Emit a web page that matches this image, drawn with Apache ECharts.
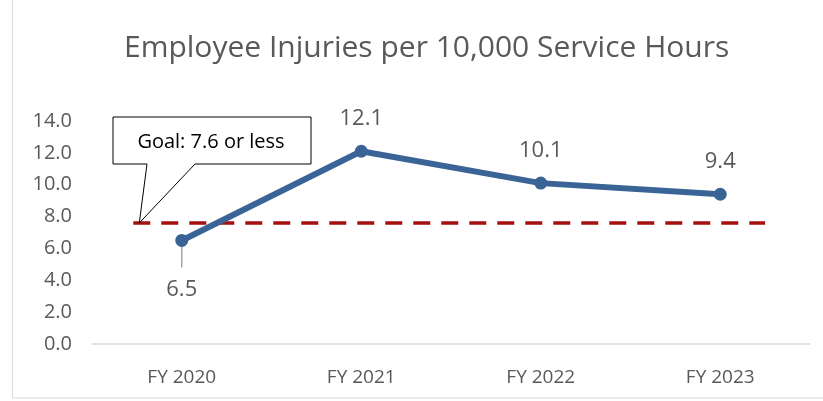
<!DOCTYPE html>
<html>
<head>
<meta charset="utf-8">
<script src="https://cdn.jsdelivr.net/npm/echarts@6/dist/echarts.min.js"></script>
<style>
  html, body { margin: 0; padding: 0; background: #fff; }
  #main { width: 823px; height: 401px; }
</style>
</head>
<body>
<div id="main"></div>
<script>
// chart values
var years = ['FY 2020', 'FY 2021', 'FY 2022', 'FY 2023'];
var injuries = [6.5, 12.1, 10.1, 9.4];
var goalValue = 7.6;
var goalSpan = [-0.27, 3.25];   // goal line start / end, in category units
var yTicks = [0, 14, 2];        // min, max, interval

var chart = echarts.init(document.getElementById('main'));
var font = 'Open Sans, Noto Sans, sans-serif';

chart.setOption({
  animation: false,
  title: {
    text: 'Employee Injuries per 10,000 Service Hours',
    left: 119,
    top: 28,
    textStyle: { fontFamily: font, fontSize: 30, fontWeight: 'normal', color: '#595959' }
  },
  grid: { left: 92, right: 13, top: 121, bottom: 57 },
  xAxis: [{
    type: 'category',
    data: years,
    axisLine: { lineStyle: { color: '#d9d9d9', width: 1.5 } },
    axisTick: { show: false },
    axisLabel: { fontFamily: font, fontSize: 19, color: '#595959', margin: 24 }
  }, {
    type: 'value',
    min: -0.5, max: 3.5,
    show: false
  }],
  yAxis: {
    type: 'value',
    min: yTicks[0], max: yTicks[1], interval: yTicks[2],
    splitLine: { show: false },
    axisLine: { show: false },
    axisTick: { show: false },
    axisLabel: {
      fontFamily: font, fontSize: 20, color: '#595959', margin: 20,
      formatter: function (v) { return v.toFixed(1); }
    }
  },
  series: [{
    name: 'Goal',
    type: 'line',
    xAxisIndex: 1,
    data: [[goalSpan[0], goalValue], [goalSpan[1], goalValue]],
    symbol: 'none',
    lineStyle: { color: '#a50f0f', width: 3.5, type: [17, 11] },
    z: 1
  }, {
    name: 'Injuries',
    type: 'line',
    data: injuries,
    symbol: 'circle',
    symbolSize: 13,
    lineStyle: { color: '#3a6496', width: 6 },
    itemStyle: { color: '#3a6496' },
    z: 3,
    label: {
      show: true,
      position: 'top',
      distance: 15,
      fontFamily: font, fontSize: 22, color: '#595959',
      formatter: function (p) { return p.value.toFixed(1); }
    },
    labelLayout: function (p) {
      if (p.dataIndex === 0) return { dy: 82 };
      return {};
    }
  }]
});

// callout for the goal and leader line for the first label
var tip = chart.convertToPixel({ xAxisIndex: 1, yAxisIndex: 0 }, [goalSpan[0], goalValue]);
var p0 = chart.convertToPixel({ xAxisIndex: 0, yAxisIndex: 0 }, [0, injuries[0]]);
chart.setOption({
  graphic: [{
    type: 'rect',
    shape: { x: 12.5, y: -1, width: 830, height: 399 },
    style: { fill: 'none', stroke: '#d9d9d9', lineWidth: 1 },
    silent: true
  }, {
    type: 'polygon',
    shape: { points: [[113, 117], [311, 117], [311, 164], [195, 164], [tip[0] + 6, tip[1]], [147, 164], [113, 164]] },
    style: { fill: '#fff', stroke: '#000', lineWidth: 1 },
    z: 10
  }, {
    type: 'text',
    x: 211, y: 142,
    style: {
      text: 'Goal: 7.6 or less', fontFamily: font, fontSize: 20, fill: '#000',
      align: 'center', verticalAlign: 'middle'
    },
    z: 11
  }, {
    type: 'line',
    shape: { x1: p0[0], y1: p0[1] + 5, x2: p0[0], y2: p0[1] + 27 },
    style: { stroke: '#a6a6a6', lineWidth: 1.5 },
    z: 2
  }]
});
</script>
</body>
</html>
